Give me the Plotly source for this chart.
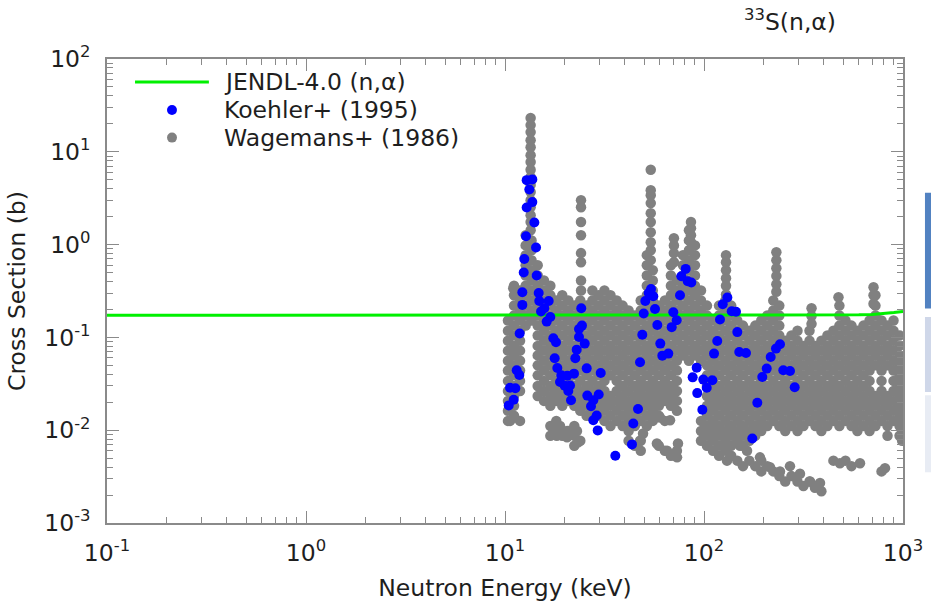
import plotly.graph_objects as go

# ---------------- data ----------------
# JENDL-4.0 (n,alpha) evaluated curve
jendl_E = [0.1, 1, 10, 100, 300, 500, 600, 700, 800, 900, 1000]
jendl_sigma = [0.173, 0.173, 0.173, 0.173, 0.173, 0.174, 0.175, 0.177, 0.18, 0.185, 0.19]

# Koehler+ (1995)
koehler_E = [12.85, 13.72, 13.25, 12.85, 13.72, 14.04, 12.75, 14.32, 12.50, 12.42,
             14.43, 12.22, 14.77, 12.22, 14.87, 16.58, 15.76, 15.17, 16.89, 16.20,
             11.85, 17.49, 18.04, 17.77, 18.32, 19.19, 20.56, 18.90, 19.95, 21.22,
             20.80, 21.47, 11.45, 11.80, 10.60, 11.27, 11.06, 10.44, 24.17, 24.37,
             23.54, 23.54, 25.15, 22.93, 22.56, 25.74, 22.22, 30.27, 25.92, 29.57,
             27.78, 27.05, 28.89, 27.78, 29.23, 35.84, 43.46, 44.12, 46.60, 47.70,
             48.97, 49.77, 50.70, 52.73, 54.16, 55.62, 56.73, 58.26, 60.32, 61.73,
             66.17, 70.10, 72.91, 68.82, 75.75, 76.90, 80.91, 82.81, 86.34, 91.9,
             87.7, 99.2, 103.2, 110.1, 92.5, 98.1, 112.3, 116.6, 120.3, 124.2,
             131.0, 137.8, 144.8, 147.0, 150.4, 162.6, 240.9, 230.0, 216.3, 206.6,
             196.3, 250.3, 270.5, 285.6, 185.3, 174.9]
koehler_sigma = [4.95, 5.04, 3.93, 2.51, 2.87, 1.73, 1.23, 0.93, 0.70, 0.50,
                 0.464, 0.307, 0.301, 0.224, 0.247, 0.247, 0.206, 0.190, 0.166, 0.148,
                 0.110, 0.0978, 0.0885, 0.0595, 0.0468, 0.0390, 0.0387, 0.0330, 0.0302, 0.0303,
                 0.0264, 0.0210, 0.0442, 0.0393, 0.0287, 0.0283, 0.0213, 0.0185, 0.206, 0.134,
                 0.123, 0.101, 0.0857, 0.0738, 0.0595, 0.0464, 0.0407, 0.0413, 0.0236, 0.0243,
                 0.0210, 0.0181, 0.0144, 0.0128, 0.00995, 0.00531, 0.00703, 0.0118, 0.0169, 0.0539,
                 0.107, 0.181, 0.247, 0.301, 0.333, 0.278, 0.202, 0.136, 0.0857, 0.0636,
                 0.0669, 0.187, 0.153, 0.129, 0.285, 0.456, 0.547, 0.403, 0.390, 0.0472,
                 0.0371, 0.0351, 0.0287, 0.0345, 0.0251, 0.0166, 0.0669, 0.0915, 0.156, 0.228,
                 0.269, 0.191, 0.189, 0.114, 0.0696, 0.068, 0.0842, 0.0757, 0.0614, 0.0461,
                 0.0374, 0.0442, 0.0434, 0.0290, 0.0198, 0.00815]

# Wagemans+ (1986): read column by column (energy, list of cross sections)
wag_col_E = [10.35, 11.1, 11.9, 12.7, 13.6, 13.45, 14.6, 15.7, 16.9, 18.1,
             19.4, 20.8, 22.3, 23.9, 24.1, 25.7, 27.5, 29.5, 31.6, 33.9,
             36.4, 39.0, 41.8, 44.9, 48.1, 51.6, 54.0, 55.3, 59.3, 63.6,
             68.2, 70.6, 73.1, 78.4, 84.0, 86.0, 90.1, 96.6, 103.5, 111,
             119, 128, 129, 137, 147, 157, 169, 181, 194, 208,
             223, 231, 239, 256, 275, 295, 316, 339, 347, 363,
             389, 417, 447, 479, 474, 514, 551, 590, 633, 679,
             711, 727, 780, 836, 896, 961, 990]
wag_col_sigma = [
    [0.152, 0.118, 0.092, 0.072, 0.056, 0.044, 0.034, 0.0265, 0.0207, 0.0162, 0.0126],
    [0.36, 0.285, 0.22, 0.172, 0.134, 0.105, 0.081, 0.064, 0.050, 0.039, 0.030, 0.0234, 0.0183, 0.0143],
    [0.32, 0.25, 0.195, 0.152, 0.118, 0.092, 0.072, 0.056, 0.044, 0.034, 0.0265, 0.0126],
    [1.26, 0.98, 0.77, 0.60, 0.465, 0.36, 0.285, 0.22, 0.172, 0.134],
    [1.11, 0.87, 0.68, 0.53, 0.41, 0.32, 0.25, 0.195, 0.152],
    [23.1, 19.4, 16.3, 13.3, 11.2, 9.2, 7.75, 6.4, 5.35, 4.4, 3.69, 3.0, 2.53, 2.07, 1.75, 1.43, 1.11],
    [0.60, 0.465, 0.36, 0.285, 0.22, 0.172, 0.134, 0.105, 0.081, 0.064, 0.050, 0.039, 0.030, 0.0234],
    [0.41, 0.32, 0.25, 0.195, 0.152, 0.118, 0.092, 0.072, 0.056, 0.044, 0.034, 0.0265, 0.0207],
    [0.36, 0.285, 0.22, 0.172, 0.134, 0.105, 0.081, 0.064, 0.050, 0.039, 0.030, 0.0234, 0.0183, 0.0111, 0.0087],
    [0.25, 0.195, 0.152, 0.118, 0.092, 0.072, 0.056, 0.044, 0.034, 0.0265, 0.0207, 0.0126, 0.0098],
    [0.285, 0.22, 0.172, 0.134, 0.105, 0.081, 0.064, 0.050, 0.039, 0.030, 0.0234, 0.0183, 0.0087],
    [0.25, 0.195, 0.152, 0.118, 0.092, 0.072, 0.056, 0.044, 0.034, 0.0265, 0.0207, 0.0098],
    [0.22, 0.172, 0.134, 0.105, 0.081, 0.064, 0.050, 0.039, 0.030, 0.0234, 0.0183, 0.0111, 0.0087, 0.0068],
    [0.25, 0.195, 0.152, 0.118, 0.092, 0.072, 0.056, 0.044, 0.034, 0.0265, 0.0207, 0.0162, 0.0077],
    [3.0, 2.53, 1.75, 1.26, 0.81, 0.645, 0.41, 0.32],
    [0.22, 0.172, 0.134, 0.105, 0.081, 0.064, 0.050, 0.039, 0.030, 0.0234, 0.0183, 0.0143],
    [0.32, 0.25, 0.195, 0.152, 0.118, 0.092, 0.072, 0.056, 0.044, 0.034, 0.0265, 0.0207, 0.0162],
    [0.285, 0.22, 0.172, 0.134, 0.105, 0.081, 0.064, 0.050, 0.039, 0.030, 0.0234, 0.0183, 0.0143],
    [0.32, 0.25, 0.195, 0.152, 0.118, 0.092, 0.072, 0.056, 0.044, 0.034, 0.0265, 0.0207, 0.0162, 0.0126],
    [0.285, 0.22, 0.172, 0.134, 0.105, 0.081, 0.064, 0.050, 0.039, 0.0234, 0.0183, 0.0143, 0.0111],
    [0.25, 0.195, 0.152, 0.118, 0.092, 0.072, 0.056, 0.044, 0.034, 0.0265, 0.0207, 0.0162, 0.0126],
    [0.22, 0.172, 0.134, 0.105, 0.081, 0.064, 0.050, 0.039, 0.030, 0.0234, 0.0183, 0.0143, 0.0111],
    [0.195, 0.152, 0.118, 0.092, 0.072, 0.056, 0.044, 0.034, 0.0265, 0.0207, 0.0162, 0.0126, 0.0098, 0.0077],
    [0.172, 0.134, 0.105, 0.081, 0.064, 0.050, 0.039, 0.030, 0.0234, 0.0183, 0.0143, 0.0111, 0.0068],
    [0.25, 0.195, 0.152, 0.118, 0.092, 0.072, 0.056, 0.044, 0.034, 0.0265, 0.0207, 0.0162, 0.0126, 0.0077, 0.0060],
    [0.77, 0.60, 0.465, 0.36, 0.285, 0.22, 0.172, 0.134, 0.105, 0.081, 0.064, 0.050, 0.039, 0.030, 0.0234, 0.0183, 0.0143, 0.0111],
    [6.4, 3.86, 3.4, 2.8, 2.18, 1.75, 1.36, 1.06, 0.87, 0.68],
    [0.53, 0.41, 0.32, 0.25, 0.195, 0.152, 0.118, 0.092, 0.072, 0.056, 0.044, 0.034, 0.0265, 0.0207, 0.0162, 0.0126],
    [0.22, 0.172, 0.134, 0.105, 0.081, 0.064, 0.050, 0.039, 0.030, 0.0234, 0.0183, 0.0143, 0.0068],
    [0.25, 0.195, 0.152, 0.118, 0.092, 0.072, 0.056, 0.044, 0.034, 0.0265, 0.0207, 0.0126, 0.0060],
    [0.60, 0.465, 0.36, 0.285, 0.22, 0.172, 0.134, 0.105, 0.081, 0.064, 0.050, 0.039, 0.030, 0.0234, 0.0183, 0.0053],
    [1.17, 0.98, 0.81, 0.645],
    [0.41, 0.32, 0.25, 0.195, 0.152, 0.118, 0.092, 0.072, 0.056, 0.044, 0.034, 0.0265, 0.0207, 0.0162, 0.0060],
    [0.77, 0.60, 0.465, 0.36, 0.285, 0.22, 0.172, 0.134, 0.105, 0.081, 0.064],
    [1.43, 1.11, 0.87, 0.68, 0.53, 0.41, 0.32, 0.25, 0.195, 0.152, 0.118, 0.092, 0.072, 0.056],
    [1.75, 1.50, 1.26, 1.06],
    [0.98, 0.77, 0.60, 0.465, 0.36, 0.285, 0.22, 0.172, 0.134, 0.105, 0.081, 0.064],
    [0.32, 0.25, 0.195, 0.152, 0.118, 0.092, 0.072, 0.056, 0.0126, 0.0098, 0.0077],
    [0.22, 0.172, 0.134, 0.105, 0.081, 0.064, 0.050, 0.039, 0.030, 0.0234, 0.0183, 0.0143, 0.0111, 0.0087, 0.0068],
    [0.152, 0.118, 0.092, 0.072, 0.056, 0.044, 0.034, 0.0265, 0.0207, 0.0162, 0.0126, 0.0098, 0.0077, 0.0060],
    [0.22, 0.172, 0.134, 0.105, 0.081, 0.064, 0.050, 0.039, 0.030, 0.0234, 0.0183, 0.0143, 0.0111, 0.0087, 0.0068, 0.0053],
    [0.25, 0.195, 0.152, 0.118, 0.092, 0.072, 0.056, 0.044, 0.034, 0.0265, 0.0207, 0.0162, 0.0126, 0.0098, 0.0077, 0.0060],
    [0.77, 0.645, 0.53, 0.434, 0.36, 0.29],
    [0.22, 0.172, 0.134, 0.105, 0.081, 0.064, 0.050, 0.039, 0.030, 0.0234, 0.0183, 0.0143, 0.0111, 0.0087, 0.0068, 0.0053],
    [0.152, 0.118, 0.092, 0.072, 0.056, 0.044, 0.034, 0.0265, 0.0207, 0.0162, 0.0126, 0.0098, 0.0077, 0.0047],
    [0.134, 0.105, 0.081, 0.064, 0.050, 0.039, 0.030, 0.0234, 0.0183, 0.0143, 0.0111, 0.0087, 0.0068, 0.0041],
    [0.118, 0.092, 0.072, 0.056, 0.044, 0.034, 0.0265, 0.0207, 0.0162, 0.0126, 0.0098, 0.0077, 0.0047],
    [0.134, 0.105, 0.081, 0.064, 0.050, 0.039, 0.030, 0.0234, 0.0183, 0.0143, 0.0111, 0.0087, 0.0041],
    [0.152, 0.118, 0.092, 0.072, 0.056, 0.044, 0.034, 0.0265, 0.0207, 0.0162, 0.0126, 0.0098, 0.0047, 0.0036],
    [0.172, 0.134, 0.105, 0.081, 0.064, 0.050, 0.039, 0.030, 0.0234, 0.0183, 0.0143, 0.0111, 0.0041],
    [0.25, 0.195, 0.152, 0.118, 0.092, 0.072, 0.056, 0.044, 0.034, 0.0265, 0.0207, 0.0162, 0.0126, 0.0036],
    [0.828, 0.68, 0.556, 0.46, 0.374, 0.31],
    [0.22, 0.172, 0.134, 0.105, 0.081, 0.064, 0.050, 0.039, 0.030, 0.0234, 0.0183, 0.0143, 0.0111, 0.0032],
    [0.092, 0.072, 0.056, 0.044, 0.034, 0.0265, 0.0207, 0.0162, 0.0126, 0.0098, 0.0028],
    [0.105, 0.081, 0.064, 0.050, 0.039, 0.030, 0.0234, 0.0183, 0.0143, 0.0111, 0.0032],
    [0.118, 0.092, 0.072, 0.056, 0.044, 0.034, 0.0265, 0.0207, 0.0162, 0.0126, 0.0098, 0.0028],
    [0.081, 0.064, 0.050, 0.039, 0.030, 0.0234, 0.0183, 0.0143, 0.0111, 0.0025],
    [0.118, 0.092, 0.072, 0.056, 0.044, 0.034, 0.0265, 0.0207, 0.0162, 0.0126, 0.0028],
    [0.206, 0.17, 0.14],
    [0.081, 0.064, 0.050, 0.039, 0.030, 0.0234, 0.0183, 0.0143, 0.0111, 0.0025],
    [0.092, 0.072, 0.056, 0.044, 0.034, 0.0265, 0.0207, 0.0162, 0.0126, 0.0098, 0.0022],
    [0.105, 0.081, 0.064, 0.050, 0.039, 0.030, 0.0234, 0.0183, 0.0143, 0.0111],
    [0.118, 0.092, 0.072, 0.056, 0.044, 0.034, 0.0265, 0.0207, 0.0162, 0.0126, 0.0047],
    [0.22, 0.172, 0.134, 0.105, 0.081, 0.064, 0.050, 0.039, 0.030, 0.0234, 0.0183, 0.0143, 0.0111],
    [0.271],
    [0.152, 0.118, 0.092, 0.072, 0.056, 0.044, 0.034, 0.0265, 0.0207, 0.0162, 0.0126, 0.0047],
    [0.134, 0.105, 0.081, 0.064, 0.050, 0.039, 0.030, 0.0234, 0.0183, 0.0143, 0.0111, 0.0041],
    [0.118, 0.092, 0.072, 0.056, 0.044, 0.034, 0.0265, 0.0207, 0.0162, 0.0126, 0.0098],
    [0.134, 0.105, 0.081, 0.064, 0.050, 0.039, 0.030, 0.0234, 0.0183, 0.0143, 0.0111],
    [0.152, 0.118, 0.092, 0.072, 0.056, 0.044, 0.034, 0.0265, 0.0207, 0.0162, 0.0126, 0.0098],
    [0.347, 0.285, 0.23],
    [0.285, 0.22, 0.172, 0.134, 0.105, 0.081, 0.064, 0.050, 0.0234, 0.0183, 0.0143, 0.0111],
    [0.152, 0.118, 0.092, 0.072, 0.056, 0.044, 0.034, 0.0265, 0.0207, 0.0162, 0.0126, 0.0036],
    [0.134, 0.105, 0.081, 0.064, 0.050, 0.0234, 0.0183, 0.0143, 0.0111, 0.0087],
    [0.152, 0.118, 0.092, 0.072, 0.056, 0.044, 0.034, 0.0265, 0.0207, 0.0162, 0.0126],
    [0.105, 0.081, 0.064, 0.050, 0.039, 0.030, 0.0234, 0.0183, 0.0143, 0.0111, 0.0087],
    [0.056, 0.044, 0.034, 0.0265, 0.0207, 0.0162, 0.0126, 0.0098, 0.0077],
]
# Wagemans+ (1986): scattered low-lying points
wag_extra_E = [55.4, 60.1, 67.5, 74.0, 47.7, 58.0, 65.2, 71.5, 41.0, 46.1,
               49.4, 73.2, 17.4, 18.9, 20.5, 18.2, 20.5, 23.0, 23.3, 10.6,
               11.0, 130.5, 130.5, 151.7, 164.5, 191.1, 214.6, 240.9, 270.4, 303.6,
               341, 382.8, 361, 482, 608, 812]
wag_extra_sigma = [0.0152, 0.0137, 0.0128, 0.0072, 0.0077, 0.0072, 0.0060, 0.0053, 0.0143, 0.0126,
                   0.0092, 0.0051, 0.0111, 0.0111, 0.0098, 0.0087, 0.0084, 0.0098, 0.0074, 0.0126,
                   0.339, 0.0068, 0.0047, 0.0068, 0.0060, 0.0051, 0.0040, 0.0036, 0.0041, 0.0034,
                   0.0028, 0.0027, 0.0024, 0.0044, 0.0044, 0.0039]

x_ticks = [0.1, 1, 10, 100, 1000]
x_ticktext = ["10<sup>-1</sup>", "10<sup>0</sup>", "10<sup>1</sup>", "10<sup>2</sup>", "10<sup>3</sup>"]
y_ticks = [0.001, 0.01, 0.1, 1, 10, 100]
y_ticktext = ["10<sup>-3</sup>", "10<sup>-2</sup>", "10<sup>-1</sup>", "10<sup>0</sup>",
              "10<sup>1</sup>", "10<sup>2</sup>"]

# ---------------- build ----------------
wag_x = [e for e, col in zip(wag_col_E, wag_col_sigma) for _ in col] + wag_extra_E
wag_y = [s for col in wag_col_sigma for s in col] + wag_extra_sigma

FONT = "DejaVu Sans"
FS = 23.5
TXT = "#1e1e1e"
FRAME = "#8a8a8a"
GREEN = "#00f000"

fig = go.Figure()
fig.add_trace(go.Scatter(x=wag_x, y=wag_y, mode="markers", name="Wagemans+ (1986)",
                         marker=dict(color="#808080", size=10.5, line=dict(width=0)),
                         showlegend=False))
fig.add_trace(go.Scatter(x=jendl_E, y=jendl_sigma, mode="lines", name="JENDL-4.0 (n,α)",
                         line=dict(color=GREEN, width=3), showlegend=False))
fig.add_trace(go.Scatter(x=koehler_E, y=koehler_sigma, mode="markers", name="Koehler+ (1995)",
                         marker=dict(color="#0000ff", size=10, line=dict(width=0)),
                         showlegend=False))

minor_x = [m * 10.0 ** k for k in range(-1, 3) for m in range(2, 10)]
minor_y = [m * 10.0 ** k for k in range(-3, 2) for m in range(2, 10)]

axis_common = dict(type="log", showline=True, linecolor=FRAME, linewidth=1.5, mirror="ticks",
                   ticks="inside", ticklen=12, tickwidth=1, tickcolor=FRAME, showgrid=False,
                   zeroline=False, tickmode="array", automargin=False,
                   tickfont=dict(family=FONT, size=FS, color=TXT))

fig.update_xaxes(range=[-1, 3], tickvals=x_ticks, ticktext=x_ticktext, ticklabelstandoff=8,
                 minor=dict(tickmode="array", tickvals=minor_x, ticks="inside", ticklen=6,
                            tickcolor=FRAME, showgrid=False),
                 title=dict(text="Neutron Energy (keV)", font=dict(family=FONT, size=FS, color=TXT),
                            standoff=14),
                 **axis_common)
fig.update_yaxes(range=[-3, 2], tickvals=y_ticks, ticktext=y_ticktext, ticklabelstandoff=10,
                 minor=dict(tickmode="array", tickvals=minor_y, ticks="inside", ticklen=6,
                            tickcolor=FRAME, showgrid=False),
                 title=dict(text="Cross Section (b)", font=dict(family=FONT, size=FS, color=TXT),
                            standoff=12),
                 **axis_common)

# custom legend (paper coordinates)
shapes = [
    dict(type="line", xref="paper", yref="paper", x0=0.0352, x1=0.128, y0=0.9504, y1=0.9504,
         line=dict(color=GREEN, width=3)),
    dict(type="circle", xref="paper", yref="paper", x0=0.0754, x1=0.0879, y0=0.8792, y1=0.9008,
         fillcolor="#0000ff", line=dict(width=0)),
    dict(type="circle", xref="paper", yref="paper", x0=0.0754, x1=0.0879, y0=0.8198, y1=0.8414,
         fillcolor="#808080", line=dict(width=0)),
    # slide decoration on the right edge
    dict(type="rect", xref="paper", yref="paper", x0=1.0276, x1=1.045, y0=0.4621, y1=0.7115,
         fillcolor="#5282c1", line=dict(width=0), layer="below"),
    dict(type="rect", xref="paper", yref="paper", x0=1.0276, x1=1.045, y0=0.2822, y1=0.444,
         fillcolor="#cfd7e9", line=dict(width=0), layer="below"),
    dict(type="rect", xref="paper", yref="paper", x0=1.0276, x1=1.045, y0=0.1096, y1=0.2751,
         fillcolor="#e8ecf4", line=dict(width=0), layer="below"),
]
legend_text = ["JENDL-4.0 (n,α)", "Koehler+ (1995)", "Wagemans+ (1986)"]
legend_y = [0.9504, 0.8900, 0.8306]
annotations = [dict(text=t, x=0.1445, y=y, xref="paper", yref="paper", xanchor="left",
                    yanchor="middle", showarrow=False, font=dict(family=FONT, size=FS, color=TXT))
               for t, y in zip(legend_text, legend_y)]
annotations.append(dict(text="<sup>33</sup>S(n,α)", x=0.858, y=1.084, xref="paper", yref="paper",
                        xanchor="center", yanchor="middle", showarrow=False,
                        font=dict(family=FONT, size=FS, color=TXT)))

fig.update_layout(width=931, height=603, autosize=False,
                  margin=dict(l=107, r=28, t=59, b=80, pad=0),
                  plot_bgcolor="white", paper_bgcolor="white",
                  shapes=shapes, annotations=annotations, showlegend=False,
                  font=dict(family=FONT, size=FS, color=TXT))

fig.write_html("out.html")
